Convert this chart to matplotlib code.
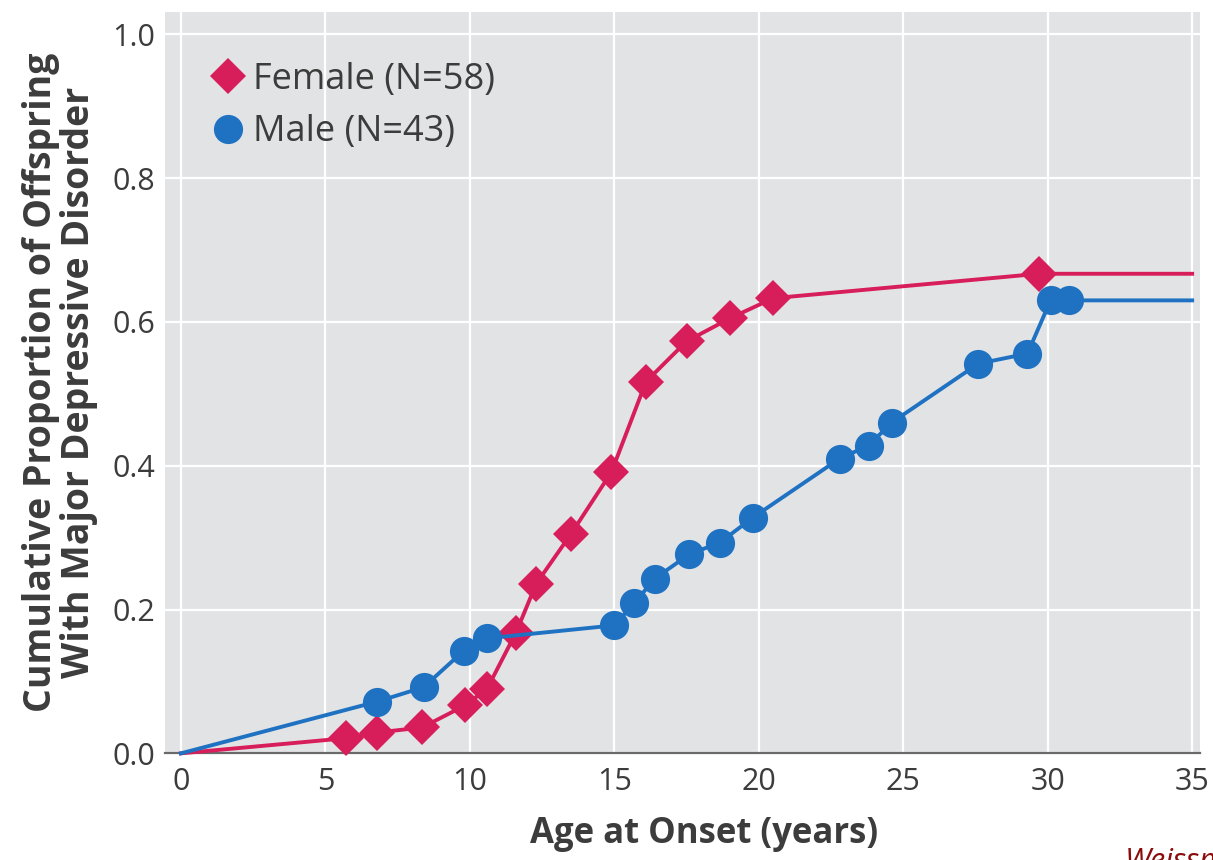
import matplotlib
matplotlib.use("Agg")
import matplotlib.pyplot as plt
from matplotlib.lines import Line2D

# cumulative onset curves
female_age = [0, 5.7, 6.8, 8.35, 9.85, 10.6, 11.6, 12.3, 13.5, 14.9, 16.1, 17.5, 19.0, 20.5, 29.7, 35]
female_prop = [0, 0.021, 0.029, 0.036, 0.067, 0.090, 0.168, 0.236, 0.305, 0.391, 0.517, 0.573, 0.605, 0.633, 0.667, 0.667]
female_marked = [False] + [True] * 14 + [False]

male_age = [0, 6.8, 8.4, 9.8, 10.6, 15.0, 15.7, 16.4, 17.6, 18.65, 19.8, 22.8, 23.8, 24.6, 27.6, 29.3, 30.1, 30.75, 35]
male_prop = [0, 0.072, 0.092, 0.143, 0.160, 0.178, 0.209, 0.243, 0.277, 0.293, 0.328, 0.410, 0.428, 0.460, 0.542, 0.556, 0.630, 0.630, 0.630]
male_marked = [False] + [True] * 17 + [False]

x_ticks = [0, 5, 10, 15, 20, 25, 30, 35]
y_ticks = [0.0, 0.2, 0.4, 0.6, 0.8, 1.0]

red = "#d71d5a"
blue = "#1f72c2"
txt = "#3c3c3c"

plt.rcParams['font.family'] = ['Open Sans', 'DejaVu Sans']

fig = plt.figure(figsize=(12.13, 8.6), dpi=100)
ax = fig.add_axes([0.136, 0.124, 0.853, 0.862])
ax.set_facecolor("#e2e3e5")

mark_f = [i for i, m in enumerate(female_marked) if m]
mark_m = [i for i, m in enumerate(male_marked) if m]

ax.plot(female_age, female_prop, color=red, lw=2.8, marker="D", markersize=18,
        markevery=mark_f, markeredgewidth=0, clip_on=False, zorder=3)
ax.plot(male_age, male_prop, color=blue, lw=2.8, marker="o", markersize=21,
        markevery=mark_m, markeredgewidth=0, clip_on=False, zorder=4)

ax.set_xlim(-0.55, 35.26)
ax.set_ylim(0, 1.031)
ax.set_xticks(x_ticks)
ax.set_yticks(y_ticks)
ax.set_yticklabels(["%.1f" % v for v in y_ticks])
ax.grid(True, color="white", lw=1.6)
ax.set_axisbelow(True)

for s in ["top", "right", "left"]:
    ax.spines[s].set_visible(False)
ax.spines["bottom"].set_color("#6a6a6a")
ax.spines["bottom"].set_linewidth(1.6)
ax.tick_params(length=0, labelsize=22, colors=txt, pad=10)
ax.tick_params(axis="y", pad=7)

ax.set_xlabel("Age at Onset (years)", fontsize=25, fontweight="bold", color=txt)
ax.xaxis.set_label_coords(0.521, -0.085)
ax.set_ylabel("Cumulative Proportion of Offspring\nWith Major Depressive Disorder",
              fontsize=27, fontweight="bold", color=txt, labelpad=10, linespacing=1.0)

handles = [Line2D([], [], ls="none", marker="D", markersize=18, color=red, markeredgewidth=0),
           Line2D([], [], ls="none", marker="o", markersize=21, color=blue, markeredgewidth=0)]
leg = ax.legend(handles, ["Female (N=58)", "Male (N=43)"], loc="upper left",
                bbox_to_anchor=(0.0435, 0.9325), frameon=False, borderpad=0, borderaxespad=0,
                fontsize=26, handlelength=1.0, handletextpad=0.2, labelspacing=0.45)
for t in leg.get_texts():
    t.set_color(txt)

fig.text(0.927, 0.015, "Weissman", color="#8b0a0a", fontsize=22, style="italic", va="top")

fig.savefig("out.png", dpi=100)
